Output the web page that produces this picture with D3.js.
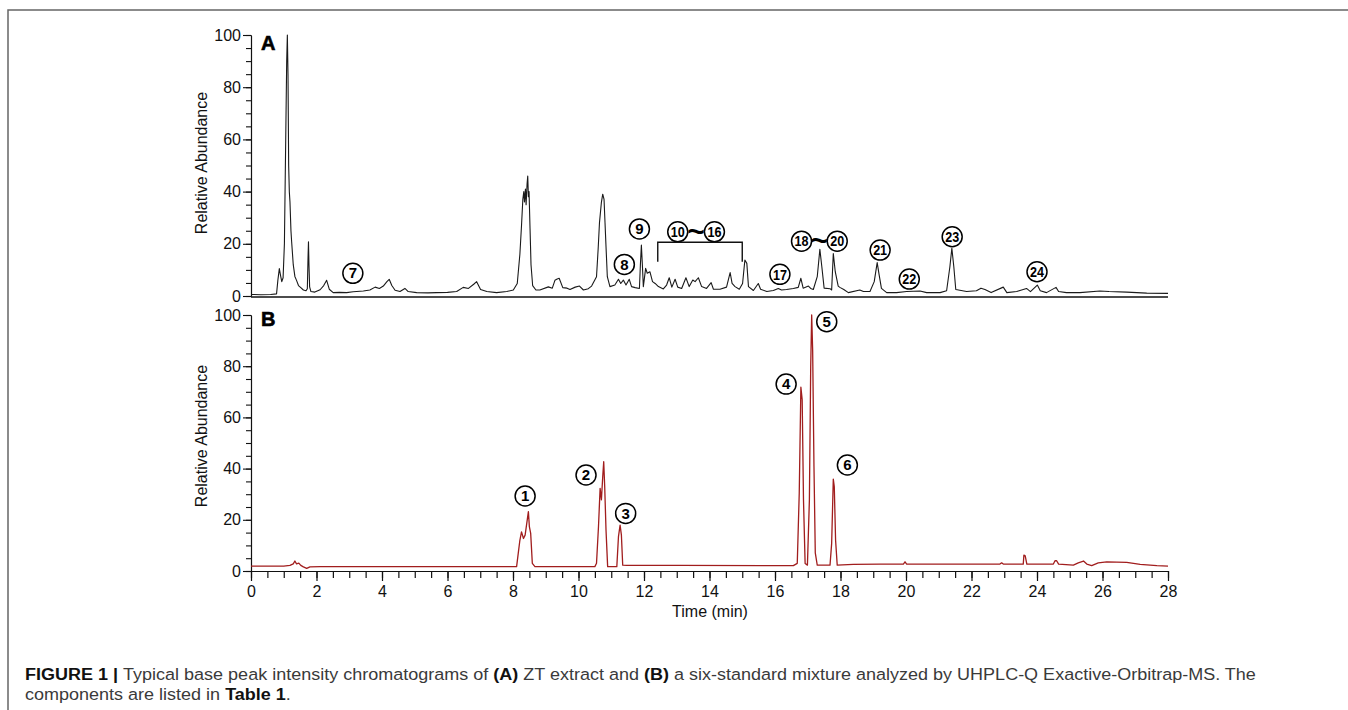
<!DOCTYPE html>
<html>
<head>
<meta charset="utf-8">
<script src="https://cdn.jsdelivr.net/npm/d3@7"></script>
<style>
  body { margin: 0; background: #fff; }
  svg { display: block; }
</style>
</head>
<body>
<svg id="chart" width="1348" height="710"></svg>
<script>
// ZT extract, base peak chromatogram: [time (min), relative abundance]
const traceA = [
  [0,0.6],[0.3,0.5],[0.6,0.6],[0.78,0.8],[0.82,6],[0.865,10.5],[0.9,8],[0.94,5.5],[0.98,7],
  [1.02,20],[1.06,60],[1.09,90],[1.11,100],[1.13,85],[1.15,50],[1.17,40],[1.19,36],[1.22,25],
  [1.24,21],[1.29,12],[1.34,7.5],[1.39,6],[1.45,4],[1.52,3.2],[1.6,2.3],[1.68,2],[1.72,2.8],
  [1.74,14],[1.755,20.8],[1.77,12],[1.79,3.5],[1.83,1.7],[1.95,1.5],[2.11,2.4],[2.22,4],[2.31,6],
  [2.39,2.6],[2.51,1.3],[2.7,1.4],[2.92,1.3],[3.12,1.6],[3.43,1.9],[3.63,2.3],[3.79,3.4],[3.92,2.9],
  [4.04,3.8],[4.15,5.5],[4.22,6.4],[4.3,4],[4.4,2.2],[4.55,1.7],[4.7,2.9],[4.8,1.7],[5.06,1.3],
  [5.4,1.2],[5.67,1.3],[6.0,1.4],[6.28,1.7],[6.48,3.3],[6.64,2.9],[6.8,4.5],[6.89,5.5],[7.01,2.5],
  [7.2,1.7],[7.5,1.3],[7.81,1.7],[8.01,2.3],[8.13,4.8],[8.21,16],[8.26,27],[8.3,37],[8.33,40],
  [8.35,36],[8.38,41],[8.4,35],[8.43,43],[8.45,46],[8.47,38],[8.49,40],[8.52,26],[8.55,12],[8.6,4],
  [8.7,2.3],[8.82,2.3],[9.08,3.5],[9.2,3],[9.28,6],[9.35,6.5],[9.41,6.8],[9.52,3.2],[9.65,3],
  [9.74,2.5],[9.9,3.4],[10.03,3.8],[10.15,2.3],[10.3,2.8],[10.4,3.8],[10.55,7.4],[10.6,18],[10.64,28],
  [10.7,36],[10.74,39],[10.78,37],[10.81,28],[10.84,19],[10.88,7.4],[10.96,3.6],[11.11,4.2],[11.22,6.4],
  [11.29,4.8],[11.37,6.1],[11.45,4.2],[11.55,6.4],[11.62,3.6],[11.73,3.2],[11.86,2.9],[11.89,12],
  [11.92,19.5],[11.95,12],[11.98,3.6],[12.05,10.6],[12.1,8.7],[12.18,9.3],[12.26,5.5],[12.34,4.8],
  [12.44,3.6],[12.59,2.7],[12.69,4.2],[12.77,7],[12.85,3.4],[12.95,6.4],[13.03,3.4],[13.15,2.9],
  [13.28,7],[13.38,3.6],[13.49,6.1],[13.56,5.5],[13.66,7],[13.76,3.6],[13.91,2.9],[14.05,5.1],
  [14.12,2.6],[14.32,2.6],[14.52,3.4],[14.63,9],[14.69,4.8],[14.78,3.6],[14.91,2.6],[15.01,4.8],
  [15.08,13.8],[15.14,12.5],[15.19,3.6],[15.34,2.1],[15.49,4.8],[15.56,2.6],[15.75,1.7],[15.95,2.1],
  [16.1,2.9],[16.2,2.3],[16.35,2.5],[16.56,2.9],[16.71,3.3],[16.79,6.8],[16.86,3.0],[17.02,3.8],
  [17.09,2.9],[17.17,2.5],[17.29,7.4],[17.37,17.9],[17.43,11.2],[17.5,3],[17.68,2.8],[17.73,2.3],
  [17.78,16.3],[17.84,9.3],[17.93,3.8],[17.98,3.3],[18.1,2.5],[18.24,1.3],[18.59,2.3],[18.7,1.7],
  [18.9,1.7],[19.03,5.5],[19.12,12.8],[19.18,8.1],[19.25,2.9],[19.41,1.3],[19.71,1.3],[20.02,1.7],
  [20.43,1.9],[20.63,1.3],[21.04,1.3],[21.24,2],[21.34,11.2],[21.40,18.3],[21.46,11.2],[21.52,2.5],
  [21.85,1.7],[22.15,2],[22.29,3],[22.41,2.5],[22.6,1.3],[22.97,3.4],[23.08,1.3],[23.38,1.7],
  [23.68,2.9],[23.8,1.7],[24.01,4.2],[24.1,2],[24.29,1.3],[24.58,3.3],[24.66,1.7],[24.9,1.3],
  [25.31,1.3],[25.92,1.9],[26.2,1.7],[26.74,1.5],[27.35,1.1],[28.0,1.0]
];

// six-standard mixture
const traceB = [
  [0,1.9],[0.5,1.9],[1.0,1.9],[1.19,2.2],[1.29,2.8],[1.34,3.9],[1.39,2.8],[1.46,3.1],[1.52,2.2],
  [1.6,1.6],[1.7,1.0],[1.8,1.6],[2.11,1.7],[4,1.7],[6,1.7],[8.11,1.7],[8.16,6.9],[8.21,12],
  [8.26,15.3],[8.32,12.7],[8.37,14],[8.42,18.6],[8.47,23.2],[8.5,17.3],[8.54,14.7],[8.59,3],
  [8.67,1.7],[10.5,1.7],[10.55,3],[10.61,17.3],[10.66,32.3],[10.7,27.8],[10.74,36.9],[10.77,42.7],
  [10.8,33],[10.84,16],[10.89,1.7],[11.17,1.7],[11.22,13.4],[11.27,17.9],[11.31,14],[11.35,2.3],
  [11.47,2.2],[13.1,2.2],[16.56,2.1],[16.68,3],[16.74,30.3],[16.79,71.8],[16.83,66.9],[16.87,27.7],
  [16.92,2.9],[16.99,2.3],[17.05,27.7],[17.09,79.8],[17.12,100],[17.15,86],[17.19,40.8],[17.23,7.1],
  [17.29,2.3],[17.68,2.3],[17.73,10.8],[17.78,35.9],[17.81,33],[17.85,12],[17.9,2.3],[18.39,2.6],
  [19.21,2.7],[19.92,2.7],[19.97,3.6],[20.02,2.7],[21.24,2.7],[22.87,2.7],[22.92,3.2],[22.97,2.7],
  [23.58,2.7],[23.6,6.2],[23.64,5.9],[23.69,2.7],[24.5,2.7],[24.55,4],[24.6,4],[24.66,2.7],
  [25.11,2.3],[25.26,3.2],[25.42,3.9],[25.52,2.7],[25.67,2.1],[25.87,3.2],[26.13,3.6],[26.74,3.4],
  [27.15,2.6],[27.66,2.1],[28.0,1.9]
];

// circled component numbers, placed at [time, abundance]
const peaksA = [
  { id: "7", t: 3.11, v: 8.7 },
  { id: "8", t: 11.40, v: 12.1 },
  { id: "9", t: 11.86, v: 25.7 },
  { id: "17", t: 16.15, v: 8.3 },
  { id: "21", t: 19.21, v: 17.6 },
  { id: "22", t: 20.10, v: 6.5 },
  { id: "23", t: 21.41, v: 22.7 },
  { id: "24", t: 24.00, v: 9.3 }
];
const rangesA = [
  { from: "10", to: "16", t1: 13.03, t2: 14.15, v: 24.6 },
  { from: "18", to: "20", t1: 16.81, t2: 17.90, v: 21.0 }
];
const bracketA = { t1: 12.42, t2: 15.0, top: 20.6, bottom: 13.1 };
const peaksB = [
  { id: "1", t: 8.37, v: 29.3 },
  { id: "2", t: 10.23, v: 37.5 },
  { id: "3", t: 11.44, v: 22.5 },
  { id: "4", t: 16.34, v: 73 },
  { id: "5", t: 17.58, v: 97.4 },
  { id: "6", t: 18.21, v: 41.4 }
];

const timeTicks = [0, 2, 4, 6, 8, 10, 12, 14, 16, 18, 20, 22, 24, 26, 28];
const abundanceTicks = [0, 20, 40, 60, 80, 100];

const svg = d3.select("#chart");
const font = "'Liberation Sans', Arial, sans-serif";

// outer frame
svg.append("rect")
  .attr("x", 8).attr("y", 10)
  .attr("width", 1400).attr("height", 800)
  .attr("fill", "none")
  .attr("stroke", "#666")
  .attr("stroke-width", 1.5);

const x = d3.scaleLinear().domain([0, 28]).range([251, 1168]);
const yA = d3.scaleLinear().domain([0, 100]).range([296, 35]);
const yB = d3.scaleLinear().domain([0, 100]).range([571, 315]);

function yAxis(y, label, labelY) {
  const minor = svg.append("g").attr("transform", "translate(251,0)")
    .call(d3.axisLeft(y).tickValues(d3.range(0, 101, 5)).tickSize(5).tickFormat("").tickSizeOuter(0));
  const major = svg.append("g").attr("transform", "translate(251,0)")
    .call(d3.axisLeft(y).tickValues(abundanceTicks).tickSize(8).tickPadding(2).tickSizeOuter(0));
  [minor, major].forEach(g => {
    g.selectAll("path, line").attr("stroke", "#111").attr("stroke-width", 1.1);
    g.selectAll("text").attr("font-family", font).attr("font-size", 16).attr("fill", "#111");
  });
  svg.append("text")
    .attr("transform", "translate(207," + labelY + ") rotate(-90)")
    .attr("text-anchor", "middle")
    .attr("font-family", font)
    .attr("font-size", 16)
    .attr("fill", "#111")
    .text(label);
}

yAxis(yA, "Relative Abundance", 163);
yAxis(yB, "Relative Abundance", 436);

// panel A bottom line
svg.append("line")
  .attr("x1", x(0)).attr("x2", x(28))
  .attr("y1", yA(0) + 1).attr("y2", yA(0) + 1)
  .attr("stroke", "#111").attr("stroke-width", 1.3);

// panel B time axis
const xMinor = svg.append("g").attr("transform", "translate(0,571)")
  .call(d3.axisBottom(x).tickValues(d3.range(0, 28.01, 0.5)).tickSize(7).tickFormat("").tickSizeOuter(0));
const xMajor = svg.append("g").attr("transform", "translate(0,571)")
  .call(d3.axisBottom(x).tickValues(timeTicks).tickSize(10).tickPadding(5).tickSizeOuter(0));
[xMinor, xMajor].forEach(g => {
  g.selectAll("path, line").attr("stroke", "#111").attr("stroke-width", 1.2);
  g.selectAll("text").attr("font-family", font).attr("font-size", 16).attr("fill", "#111");
});
svg.append("text")
  .attr("x", 710).attr("y", 617)
  .attr("text-anchor", "middle")
  .attr("font-family", font)
  .attr("font-size", 16)
  .attr("fill", "#111")
  .text("Time (min)");

// traces
const lineA = d3.line().x(d => x(d[0])).y(d => yA(d[1]));
const lineB = d3.line().x(d => x(d[0])).y(d => yB(d[1]));
svg.append("path").datum(traceA)
  .attr("d", lineA).attr("fill", "none")
  .attr("stroke", "#1a1a1a").attr("stroke-width", 1.1).attr("stroke-linejoin", "round");
svg.append("path").datum(traceB)
  .attr("d", lineB).attr("fill", "none")
  .attr("stroke", "#a11d1d").attr("stroke-width", 1.3).attr("stroke-linejoin", "round");

// panel letters
svg.append("text").attr("x", 261).attr("y", 50)
  .attr("font-family", font).attr("font-weight", 900).attr("font-size", 20)
  .attr("stroke", "#000").attr("stroke-width", 0.6)
  .text("A");
svg.append("text").attr("x", 261).attr("y", 326)
  .attr("font-family", font).attr("font-weight", 900).attr("font-size", 20)
  .attr("stroke", "#000").attr("stroke-width", 0.6)
  .text("B");

function circled(cx, cy, id) {
  svg.append("circle")
    .attr("cx", cx).attr("cy", cy).attr("r", 10)
    .attr("fill", "#fff").attr("stroke", "#000").attr("stroke-width", 1.5);
  const t = svg.append("text")
    .attr("x", cx).attr("y", cy + 5.2)
    .attr("text-anchor", "middle")
    .attr("font-family", font)
    .attr("font-weight", "bold")
    .attr("font-size", id.length > 1 ? 14 : 15)
    .attr("fill", "#000")
    .text(id);
  if (id.length > 1) t.attr("textLength", 14).attr("lengthAdjust", "spacingAndGlyphs");
}

function tilde(cx, cy) {
  svg.append("text")
    .attr("x", cx).attr("y", cy + 10)
    .attr("text-anchor", "middle")
    .attr("font-family", font)
    .attr("font-weight", "bold")
    .attr("font-size", 30)
    .text("~");
}

peaksA.forEach(p => circled(x(p.t), yA(p.v), p.id));
rangesA.forEach(r => {
  circled(x(r.t1), yA(r.v), r.from);
  circled(x(r.t2), yA(r.v), r.to);
  tilde((x(r.t1) + x(r.t2)) / 2, yA(r.v));
});
svg.append("path")
  .attr("d", d3.line()([
    [x(bracketA.t1), yA(bracketA.bottom)],
    [x(bracketA.t1), yA(bracketA.top)],
    [x(bracketA.t2), yA(bracketA.top)],
    [x(bracketA.t2), yA(bracketA.bottom)]
  ]))
  .attr("fill", "none").attr("stroke", "#111").attr("stroke-width", 1.4);
peaksB.forEach(p => circled(x(p.t), yB(p.v), p.id));

// caption (condensed by a horizontal scale fitted to the first line)
const line1 = [
  ["FIGURE 1 | ", true],
  ["Typical base peak intensity chromatograms of ", false],
  ["(A)", true],
  [" ZT extract and ", false],
  ["(B)", true],
  [" a six-standard mixture analyzed by UHPLC-Q Exactive-Orbitrap-MS. The", false]
];
const line2 = [
  ["components are listed in ", false],
  ["Table 1", true],
  [".", false]
];
function captionLine(parts, y) {
  const t = svg.append("text")
    .attr("x", 0).attr("y", 0)
    .attr("font-family", font)
    .attr("font-size", 17)
    .attr("xml:space", "preserve");
  parts.forEach(p => {
    t.append("tspan")
      .attr("font-weight", p[1] ? "bold" : "normal")
      .attr("fill", p[1] ? "#111" : "#3a3a3a")
      .text(p[0]);
  });
  return t.attr("data-y", y);
}
const cap1 = captionLine(line1, 680);
const cap2 = captionLine(line2, 700);
const sx = 1232 / cap1.node().getComputedTextLength();
[cap1, cap2].forEach(t => t.attr("transform", "translate(25," + t.attr("data-y") + ") scale(" + sx + ",1)"));
</script>
</body>
</html>
